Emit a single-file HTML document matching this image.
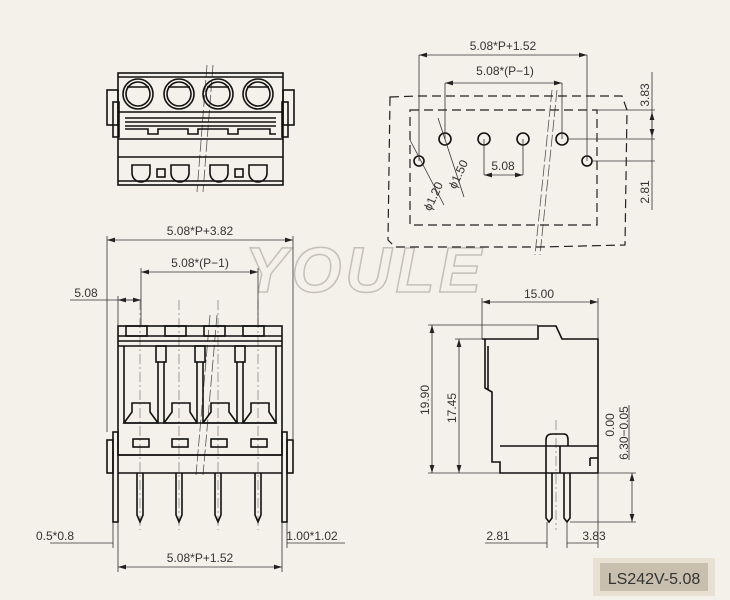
<!DOCTYPE html>
<html><head><meta charset="utf-8"><style>
html,body{margin:0;padding:0;background:#f4f1ea;}
svg{display:block}
text{font-family:"Liberation Sans",sans-serif;fill:#333}
</style></head><body>
<svg width="730" height="600" viewBox="0 0 730 600" xmlns="http://www.w3.org/2000/svg">
<defs>
<marker id="a" viewBox="0 0 10 6" refX="10" refY="3" markerWidth="10" markerHeight="6" orient="auto-start-reverse"><path d="M0,0L10,3L0,6z" fill="#222"/></marker>
</defs>
<rect width="730" height="600" fill="#f4f1ea"/>

<!-- Watermark -->
<text x="365" y="292" text-anchor="middle" style="font-size:64px;font-style:italic;font-weight:bold;fill:none;stroke:#c4c0b8;stroke-width:1.5;letter-spacing:4px">YOULE</text>

<!-- center / break lines -->
<g stroke="#777" stroke-width="0.7" fill="none" stroke-dasharray="10,3,2,3">
<line x1="140" y1="300" x2="140" y2="530"/><line x1="179" y1="300" x2="179" y2="530"/>
<line x1="218" y1="300" x2="218" y2="530"/><line x1="258" y1="300" x2="258" y2="530"/>
<line x1="556" y1="420" x2="556" y2="530"/>
</g>
<g stroke="#555" stroke-width="0.8" fill="none" stroke-dasharray="12,3">
<line x1="210" y1="315" x2="196" y2="475"/><line x1="217" y1="315" x2="203" y2="475"/>
<line x1="207" y1="65" x2="197" y2="192"/><line x1="213" y1="65" x2="203" y2="192"/>
<line x1="552" y1="90" x2="535" y2="255"/><line x1="557" y1="90" x2="540" y2="255"/>
</g>

<g stroke="#111" stroke-width="1.6" fill="none">
<!-- TOP LEFT VIEW -->
<rect x="118" y="73" width="165" height="112"/>
<line x1="118" y1="77" x2="283" y2="77"/>
<rect x="107" y="90" width="11" height="35"/><rect x="283" y="90" width="11" height="35"/>
<rect x="113" y="102" width="6" height="35"/><rect x="282" y="102" width="6" height="35"/>
<circle cx="138" cy="94" r="15"/><circle cx="138" cy="94" r="12"/>
<circle cx="179" cy="94" r="15"/><circle cx="179" cy="94" r="12"/>
<circle cx="218" cy="94" r="15"/><circle cx="218" cy="94" r="12"/>
<circle cx="258" cy="94" r="15"/><circle cx="258" cy="94" r="12"/>
<line x1="127" y1="87" x2="149" y2="87"/><line x1="168" y1="87" x2="190" y2="87"/><line x1="207" y1="87" x2="229" y2="87"/><line x1="247" y1="87" x2="269" y2="87"/>
<line x1="118" y1="112" x2="283" y2="112"/>
<line x1="125" y1="118" x2="276" y2="118"/><line x1="125" y1="122" x2="276" y2="122"/><line x1="125" y1="126" x2="276" y2="126"/>
<path d="M125,129H148V134H158V129H165"/><path d="M165,129H188V134H198V129H205"/><path d="M205,129H228V134H238V129H245"/><path d="M245,129H270V134H276"/>
<line x1="118" y1="139" x2="283" y2="139"/>
<line x1="118" y1="157" x2="283" y2="157"/>
<line x1="118" y1="181" x2="283" y2="181"/>
<path d="M132,165V173A9,9 0 0 0 150,173V165Z"/><rect x="157" y="169" width="8" height="8"/>
<path d="M171,165V173A9,9 0 0 0 189,173V165Z"/>
<path d="M210,165V173A9,9 0 0 0 228,173V165Z"/><rect x="235" y="169" width="8" height="8"/>
<path d="M249,165V173A9,9 0 0 0 267,173V165Z"/>

<!-- BOTTOM LEFT FRONT VIEW -->
<rect x="118" y="326" width="164" height="129"/>
<line x1="118" y1="336" x2="282" y2="336"/><line x1="118" y1="341" x2="282" y2="341"/><line x1="118" y1="346" x2="282" y2="346"/>
<rect x="126" y="326" width="21" height="10"/><rect x="165" y="326" width="21" height="10"/><rect x="204" y="326" width="21" height="10"/><rect x="243" y="326" width="21" height="10"/>
<line x1="124" y1="346" x2="124" y2="423"/><line x1="276" y1="346" x2="276" y2="423"/>
<rect x="156" y="346" width="10" height="16"/><rect x="195" y="346" width="10" height="16"/><rect x="235" y="346" width="10" height="16"/>
<line x1="158" y1="362" x2="158" y2="423"/><line x1="164" y1="362" x2="164" y2="423"/>
<line x1="197" y1="362" x2="197" y2="423"/><line x1="203" y1="362" x2="203" y2="423"/>
<line x1="237" y1="362" x2="237" y2="423"/><line x1="243" y1="362" x2="243" y2="423"/>
<path d="M124,423L132,412V403H150V412L158,423Z"/>
<path d="M164,423L172,412V403H190V412L197,423Z"/>
<path d="M203,423L211,412V403H229V412L237,423Z"/>
<path d="M243,423L251,412V403H269V412L276,423Z"/>
<line x1="124" y1="423" x2="276" y2="423"/>
<rect x="133" y="439" width="16" height="8"/><rect x="172" y="439" width="16" height="8"/><rect x="211" y="439" width="16" height="8"/><rect x="251" y="439" width="16" height="8"/>
<line x1="118" y1="455" x2="282" y2="455"/>
<line x1="118" y1="473" x2="282" y2="473"/>
<rect x="107" y="440" width="6" height="33"/><rect x="113" y="432" width="5" height="90"/>
<rect x="287" y="440" width="6" height="33"/><rect x="282" y="432" width="5" height="90"/>
<path d="M137,473V515L140,522L143,515V473"/><path d="M176,473V515L179,522L182,515V473"/>
<path d="M215,473V515L218,522L221,515V473"/><path d="M255,473V515L258,522L261,515V473"/>

<!-- SIDE VIEW -->
<path d="M482,339H538V326H556L562,339H598V473H500V462H492V392L485,388V339"/>
<line x1="488" y1="346" x2="488" y2="390"/>
<line x1="500" y1="446" x2="598" y2="446"/>
<line x1="560" y1="446" x2="560" y2="473"/>
<path d="M546,473V440Q546,434 552,434H564Q568,434 568,440V446"/>
<path d="M546,473V518L549,522L552,518V473"/><path d="M564,473V518L567,522L570,518V473"/>
<path d="M590,458H598"/><line x1="590" y1="458" x2="590" y2="466"/>
</g>

<!-- TOP RIGHT DASHED VIEW -->
<g stroke="#222" stroke-width="1.2" fill="none" stroke-dasharray="9,5">
<path d="M390,97L418,96H622L627,110L625,245L540,247H395L388,240Z"/>
<rect x="410" y="110" width="187" height="115"/>
</g>
<g stroke="#111" stroke-width="1.6" fill="none">
<circle cx="445" cy="139" r="6"/><circle cx="484" cy="139" r="6"/><circle cx="523" cy="139" r="6"/><circle cx="562" cy="139" r="6"/>
<circle cx="419" cy="161" r="5"/><circle cx="587" cy="161" r="5"/>
</g>

<!-- dimension lines -->
<g stroke="#333" stroke-width="0.8" fill="none">
<line x1="419" y1="55" x2="419" y2="161"/><line x1="587" y1="55" x2="587" y2="161"/>
<line x1="419" y1="55" x2="587" y2="55" marker-start="url(#a)" marker-end="url(#a)"/>
<line x1="445" y1="83" x2="445" y2="139"/><line x1="562" y1="83" x2="562" y2="139"/>
<line x1="445" y1="83" x2="562" y2="83" marker-start="url(#a)" marker-end="url(#a)"/>
<line x1="484" y1="139" x2="484" y2="175"/><line x1="523" y1="139" x2="523" y2="175"/>
<line x1="484" y1="175" x2="523" y2="175" marker-start="url(#a)" marker-end="url(#a)"/>
<line x1="597" y1="110" x2="655" y2="110"/><line x1="568" y1="139" x2="655" y2="139"/><line x1="592" y1="161" x2="655" y2="161"/>
<line x1="652" y1="72" x2="652" y2="210"/>
<line x1="652" y1="112" x2="652" y2="137" marker-start="url(#a)" marker-end="url(#a)"/>
<line x1="410" y1="140" x2="444" y2="205"/><line x1="438" y1="118" x2="464" y2="197"/>
<line x1="107" y1="236" x2="107" y2="432"/><line x1="293" y1="236" x2="293" y2="440"/>
<line x1="107" y1="240" x2="293" y2="240" marker-start="url(#a)" marker-end="url(#a)"/>
<line x1="141" y1="268" x2="141" y2="326"/><line x1="258" y1="268" x2="258" y2="326"/>
<line x1="141" y1="272" x2="258" y2="272" marker-start="url(#a)" marker-end="url(#a)"/>
<line x1="70" y1="300" x2="141" y2="300"/><line x1="118" y1="300" x2="141" y2="300" marker-start="url(#a)" marker-end="url(#a)"/>
<line x1="118" y1="296" x2="118" y2="326"/>
<line x1="118" y1="522" x2="118" y2="572"/><line x1="282" y1="522" x2="282" y2="572"/>
<line x1="118" y1="567" x2="282" y2="567" marker-start="url(#a)" marker-end="url(#a)"/>
<line x1="50" y1="543" x2="113" y2="543"/><line x1="113" y1="522" x2="113" y2="548"/>
<line x1="287" y1="543" x2="345" y2="543"/><line x1="287" y1="522" x2="287" y2="548"/>
<line x1="482" y1="298" x2="482" y2="339"/><line x1="598" y1="298" x2="598" y2="339"/>
<line x1="482" y1="302" x2="598" y2="302" marker-start="url(#a)" marker-end="url(#a)"/>
<line x1="428" y1="325" x2="538" y2="325"/><line x1="455" y1="339" x2="482" y2="339"/>
<line x1="428" y1="473" x2="500" y2="473"/>
<line x1="432" y1="325" x2="432" y2="473" marker-start="url(#a)" marker-end="url(#a)"/>
<line x1="459" y1="339" x2="459" y2="473" marker-start="url(#a)" marker-end="url(#a)"/>
<line x1="598" y1="473" x2="636" y2="473"/><line x1="570" y1="522" x2="636" y2="522"/>
<line x1="632" y1="473" x2="632" y2="522" marker-start="url(#a)" marker-end="url(#a)"/>
<line x1="629" y1="405" x2="629" y2="460"/>
<line x1="547" y1="522" x2="547" y2="548"/><line x1="567" y1="522" x2="567" y2="548"/><line x1="598" y1="473" x2="598" y2="548"/>
<line x1="485" y1="543" x2="547" y2="543"/><line x1="567" y1="543" x2="598" y2="543"/>
</g>

<g style="font-size:12px">
<text x="503" y="50" text-anchor="middle">5.08*P+1.52</text>
<text x="505" y="75" text-anchor="middle">5.08*(P−1)</text>
<text x="503" y="170" text-anchor="middle">5.08</text>
<text transform="translate(649,95) rotate(-90)" text-anchor="middle">3.83</text>
<text transform="translate(649,192) rotate(-90)" text-anchor="middle">2.81</text>
<text transform="translate(462,176) rotate(-65)" text-anchor="middle">ϕ1.50</text>
<text transform="translate(437,198) rotate(-65)" text-anchor="middle">ϕ1.20</text>
<text x="200" y="235" text-anchor="middle">5.08*P+3.82</text>
<text x="200" y="267" text-anchor="middle">5.08*(P−1)</text>
<text x="86" y="297" text-anchor="middle">5.08</text>
<text x="55" y="540" text-anchor="middle">0.5*0.8</text>
<text x="200" y="562" text-anchor="middle">5.08*P+1.52</text>
<text x="312" y="540" text-anchor="middle">1.00*1.02</text>
<text x="539" y="298" text-anchor="middle">15.00</text>
<text transform="translate(429,400) rotate(-90)" text-anchor="middle">19.90</text>
<text transform="translate(456,408) rotate(-90)" text-anchor="middle">17.45</text>
<text transform="translate(614,425) rotate(-90)" text-anchor="middle">0.00</text>
<text transform="translate(628,433) rotate(-90)" text-anchor="middle">6.30−0.05</text>
<text x="498" y="540" text-anchor="middle">2.81</text>
<text x="594" y="540" text-anchor="middle">3.83</text>
</g>

<!-- Label -->
<rect x="593" y="558" width="122" height="38" fill="#e8e1d3"/>
<rect x="600" y="563" width="108" height="28" fill="#c9bfae"/>
<text x="654" y="584" text-anchor="middle" style="font-size:16px;fill:#333">LS242V-5.08</text>
</svg>
</body></html>
